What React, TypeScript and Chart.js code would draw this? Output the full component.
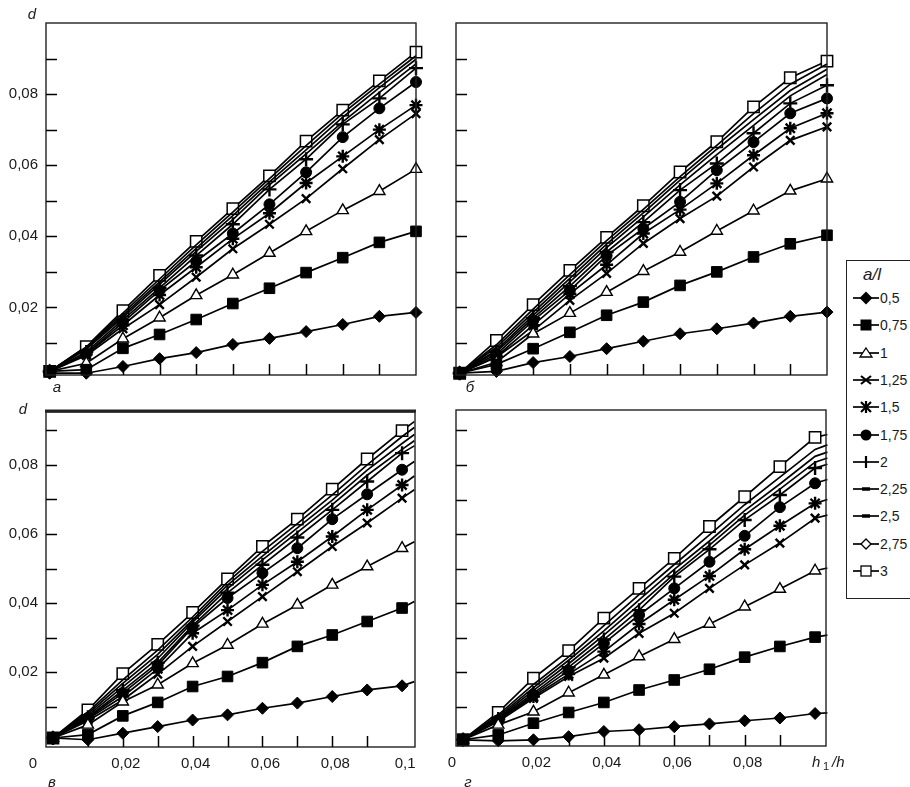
import React, { useEffect, useRef } from "react";
import { Chart, registerables } from "chart.js";

Chart.register(...registerables);

// ---------- data ----------
const ratioLabels = ["0,5", "0,75", "1", "1,25", "1,5", "1,75", "2", "2,25", "2,5", "2,75", "3"];

const xTop = [0, 0.01, 0.02, 0.03, 0.04, 0.05, 0.06, 0.07, 0.08, 0.09, 0.1];
const xBottom = [0, 0.01, 0.02, 0.03, 0.04, 0.05, 0.06, 0.07, 0.08, 0.09, 0.1, 0.1035];

// panel а
const a05 = [0.0015, 0.0015, 0.0034, 0.0056, 0.0073, 0.0096, 0.0113, 0.0132, 0.0152, 0.0175, 0.0186];
const a075 = [0.002, 0.0025, 0.0085, 0.0124, 0.0166, 0.0211, 0.0254, 0.0298, 0.034, 0.0383, 0.0414];
const a1 = [0.002, 0.0043, 0.0112, 0.0171, 0.0234, 0.0292, 0.0353, 0.0414, 0.0473, 0.0527, 0.0589];
const a125 = [0.002, 0.0065, 0.014, 0.0208, 0.0285, 0.0365, 0.0434, 0.0506, 0.059, 0.0672, 0.0745];
const a15 = [0.002, 0.0068, 0.015, 0.0235, 0.0313, 0.0393, 0.0465, 0.055, 0.0625, 0.07, 0.0769];
const a175 = [0.002, 0.007, 0.0158, 0.0248, 0.033, 0.0408, 0.049, 0.058, 0.0679, 0.076, 0.0834];
const a2 = [0.002, 0.0075, 0.0165, 0.0255, 0.0346, 0.0434, 0.0532, 0.0617, 0.0715, 0.0788, 0.0873];
const a225 = [0.002, 0.0082, 0.0172, 0.0265, 0.0358, 0.0447, 0.0545, 0.0632, 0.0722, 0.0805, 0.0885];
const a25 = [0.002, 0.0086, 0.0178, 0.0272, 0.0366, 0.0458, 0.0553, 0.0643, 0.0735, 0.0818, 0.0898];
const a275 = [0.002, 0.0089, 0.0184, 0.028, 0.0376, 0.0468, 0.0562, 0.0655, 0.0746, 0.0828, 0.0908];
const a3 = [0.002, 0.009, 0.0191, 0.029, 0.0386, 0.0478, 0.057, 0.0668, 0.0755, 0.0837, 0.0918];

// panel б
const b05 = [0.0015, 0.002, 0.0045, 0.0062, 0.0084, 0.0105, 0.0126, 0.014, 0.0156, 0.0175, 0.0187];
const b075 = [0.0015, 0.004, 0.0084, 0.013, 0.0178, 0.0215, 0.0262, 0.03, 0.0342, 0.0379, 0.0403];
const b1 = [0.0015, 0.0046, 0.0126, 0.0184, 0.0243, 0.0302, 0.0356, 0.0415, 0.0472, 0.0528, 0.0562];
const b125 = [0.0015, 0.006, 0.0135, 0.022, 0.0296, 0.038, 0.045, 0.0513, 0.0595, 0.067, 0.0708];
const b15 = [0.0015, 0.0062, 0.015, 0.0238, 0.032, 0.0408, 0.0475, 0.0549, 0.0628, 0.0704, 0.0746];
const b175 = [0.0015, 0.0068, 0.0163, 0.0248, 0.0346, 0.0422, 0.0497, 0.0586, 0.0665, 0.0746, 0.0788];
const b2 = [0.0015, 0.0075, 0.017, 0.026, 0.0356, 0.044, 0.053, 0.0605, 0.069, 0.0774, 0.0825];
const b225 = [0.0015, 0.008, 0.0178, 0.0272, 0.0368, 0.0455, 0.0545, 0.063, 0.0712, 0.0795, 0.0855];
const b25 = [0.0015, 0.0088, 0.0186, 0.0282, 0.0378, 0.0466, 0.0558, 0.0645, 0.0728, 0.081, 0.087];
const b275 = [0.0015, 0.0095, 0.0195, 0.0292, 0.0388, 0.0476, 0.0568, 0.0656, 0.0745, 0.0828, 0.0885];
const b3 = [0.0015, 0.0107, 0.0208, 0.0304, 0.0397, 0.0486, 0.0581, 0.0666, 0.0764, 0.0846, 0.0893];

// panel в (last value = end of the drawn line at the right frame)
const v05 = [0.001, 0.0005, 0.0024, 0.0043, 0.0062, 0.0077, 0.0096, 0.0111, 0.013, 0.0149, 0.0161, 0.0173];
const v075 = [0.001, 0.002, 0.0074, 0.0113, 0.0159, 0.0188, 0.0228, 0.0275, 0.0308, 0.0347, 0.0386, 0.0405];
const v1 = [0.001, 0.0048, 0.0115, 0.0164, 0.0226, 0.0279, 0.034, 0.0395, 0.0453, 0.0506, 0.0559, 0.0578];
const v125 = [0.001, 0.006, 0.012, 0.0195, 0.0275, 0.0347, 0.0419, 0.0491, 0.0564, 0.0632, 0.0704, 0.0728];
const v15 = [0.001, 0.0065, 0.013, 0.021, 0.0313, 0.038, 0.0453, 0.052, 0.0593, 0.067, 0.0742, 0.0768];
const v175 = [0.001, 0.0068, 0.014, 0.022, 0.033, 0.0415, 0.0487, 0.0559, 0.0643, 0.0715, 0.0786, 0.081];
const v2 = [0.001, 0.007, 0.0148, 0.0228, 0.0335, 0.043, 0.0511, 0.059, 0.067, 0.0752, 0.0834, 0.0855];
const v225 = [0.001, 0.0075, 0.0158, 0.024, 0.0345, 0.0442, 0.0525, 0.0605, 0.0685, 0.077, 0.0845, 0.087];
const v25 = [0.001, 0.008, 0.0168, 0.0252, 0.0352, 0.0452, 0.0536, 0.0618, 0.0698, 0.0785, 0.0862, 0.0888];
const v275 = [0.001, 0.0085, 0.0178, 0.0264, 0.036, 0.0461, 0.055, 0.063, 0.0713, 0.08, 0.0882, 0.0908];
const v3 = [0.001, 0.0091, 0.0196, 0.0281, 0.0373, 0.047, 0.0564, 0.0643, 0.073, 0.0817, 0.0899, 0.0925];

// panel г
const g05 = [0.0005, 0.0002, 0.0005, 0.0014, 0.0029, 0.0034, 0.0043, 0.0051, 0.006, 0.0068, 0.0081, 0.0083];
const g075 = [0.0005, 0.0019, 0.0053, 0.0084, 0.0113, 0.0149, 0.0178, 0.0209, 0.0244, 0.0275, 0.0302, 0.0308];
const g1 = [0.0005, 0.0048, 0.0086, 0.0141, 0.0193, 0.0246, 0.0296, 0.034, 0.039, 0.0441, 0.0494, 0.0502];
const g125 = [0.0005, 0.0058, 0.0125, 0.0188, 0.0241, 0.0313, 0.0371, 0.0443, 0.0511, 0.0574, 0.0646, 0.0655];
const g15 = [0.0005, 0.006, 0.013, 0.0195, 0.026, 0.034, 0.041, 0.0479, 0.0556, 0.0624, 0.0689, 0.07];
const g175 = [0.0005, 0.0062, 0.0135, 0.0205, 0.0284, 0.0366, 0.0443, 0.052, 0.0595, 0.0678, 0.0747, 0.0758];
const g2 = [0.0005, 0.0065, 0.014, 0.0215, 0.0295, 0.038, 0.0477, 0.0556, 0.0641, 0.0713, 0.0791, 0.0802];
const g225 = [0.0005, 0.0068, 0.0148, 0.0225, 0.0308, 0.0395, 0.0485, 0.0568, 0.0655, 0.073, 0.0808, 0.082];
const g25 = [0.0005, 0.0072, 0.0156, 0.0235, 0.032, 0.041, 0.0498, 0.058, 0.0668, 0.0745, 0.0825, 0.0837];
const g275 = [0.0005, 0.0077, 0.0165, 0.0245, 0.0335, 0.0425, 0.0512, 0.0598, 0.0685, 0.0765, 0.0845, 0.0858];
const g3 = [0.0005, 0.0084, 0.0183, 0.0263, 0.0357, 0.0443, 0.053, 0.0622, 0.0708, 0.0795, 0.088, 0.0888];

const minorTicks = [0.01, 0.02, 0.03, 0.04, 0.05, 0.06, 0.07, 0.08, 0.09];
const yLabelValues = [0.02, 0.04, 0.06, 0.08];
const yLabelTexts = ["0,02", "0,04", "0,06", "0,08"];
const xLabelValuesV = [0, 0.02, 0.04, 0.06, 0.08, 0.1];
const xLabelTextsV = ["0", "0,02", "0,04", "0,06", "0,08", "0,1"];
const xLabelValuesG = [0, 0.02, 0.04, 0.06, 0.08];
const xLabelTextsG = ["0", "0,02", "0,04", "0,06", "0,08"];

// ---------- styles ----------
type Marker = { style: string; r: number; fill: string; bw: number };
const markers: Marker[] = [
  { style: "rectRot", r: 6, fill: "#000", bw: 1 },
  { style: "rect", r: 7.5, fill: "#000", bw: 1 },
  { style: "triangle", r: 6.5, fill: "#fff", bw: 1.4 },
  { style: "crossRot", r: 6, fill: "#000", bw: 2.4 },
  { style: "star", r: 6.5, fill: "#000", bw: 2.4 },
  { style: "circle", r: 5.5, fill: "#000", bw: 1 },
  { style: "cross", r: 7, fill: "#000", bw: 2.4 },
  { style: "line", r: 0, fill: "#000", bw: 3 },
  { style: "line", r: 0, fill: "#000", bw: 3 },
  { style: "rectRot", r: 0, fill: "#fff", bw: 1.2 },
  { style: "rect", r: 8, fill: "#fff", bw: 1.5 },
];

const FONT = '"Liberation Sans", Arial, sans-serif';

type Panel = {
  left: number; top: number; w: number; h: number;
  pad: { left: number; top: number; right: number; bottom: number };
  xMin: number; xMax: number; yMin: number; yMax: number;
  xs: number[]; series: number[][]; lastIsLineEnd: boolean;
  letter: string; letterDx: number; letterDy: number;
  dLabel: null | { dx: number; dy: number };
  yLabels: boolean;
  xLabels: null | { values: number[]; texts: string[]; zeroDx: number };
  thickTop: boolean; axisTitle: boolean;
};

const panels: Panel[] = [
  {
    left: 0, top: 0, w: 440, h: 400, pad: { left: 46, top: 23, right: 24, bottom: 25 },
    xMin: -0.001, xMax: 0.1, yMin: 0.001, yMax: 0.1, xs: xTop,
    series: [a05, a075, a1, a125, a15, a175, a2, a225, a25, a275, a3], lastIsLineEnd: false,
    letter: "а", letterDx: 11, letterDy: 13, dLabel: { dx: -14, dy: -8 }, yLabels: true, xLabels: null,
    thickTop: false, axisTitle: false,
  },
  {
    left: 440, top: 0, w: 400, h: 400, pad: { left: 16, top: 23, right: 13, bottom: 25 },
    xMin: -0.001, xMax: 0.1, yMin: 0.001, yMax: 0.1, xs: xTop,
    series: [b05, b075, b1, b125, b15, b175, b2, b225, b25, b275, b3], lastIsLineEnd: false,
    letter: "б", letterDx: 14, letterDy: 13, dLabel: null, yLabels: false, xLabels: null,
    thickTop: false, axisTitle: false,
  },
  {
    left: 0, top: 400, w: 440, h: 387, pad: { left: 46, top: 12, right: 25, bottom: 40 },
    xMin: -0.002, xMax: 0.1037, yMin: -0.0016, yMax: 0.0953, xs: xBottom,
    series: [v05, v075, v1, v125, v15, v175, v2, v225, v25, v275, v3], lastIsLineEnd: true,
    letter: "в", letterDx: 6, letterDy: 36, dLabel: { dx: -23, dy: -2 }, yLabels: true,
    xLabels: { values: xLabelValuesV, texts: xLabelTextsV, zeroDx: -20 },
    thickTop: true, axisTitle: false,
  },
  {
    left: 440, top: 400, w: 420, h: 387, pad: { left: 16, top: 10, right: 34, bottom: 41 },
    xMin: -0.002, xMax: 0.1031, yMin: -0.0013, yMax: 0.0959, xs: xBottom,
    series: [g05, g075, g1, g125, g15, g175, g2, g225, g25, g275, g3], lastIsLineEnd: true,
    letter: "г", letterDx: 12, letterDy: 37, dLabel: null, yLabels: false,
    xLabels: { values: xLabelValuesG, texts: xLabelTextsG, zeroDx: -11 },
    thickTop: false, axisTitle: true,
  },
];

function decorPlugin(p: Panel) {
  return {
    id: "decor",
    afterDatasetsDraw(chart: any) {
      const ctx = chart.ctx as CanvasRenderingContext2D;
      const a = chart.chartArea;
      const xs = chart.scales.x;
      const ys = chart.scales.y;
      const line = (x1: number, y1: number, x2: number, y2: number) => {
        ctx.beginPath(); ctx.moveTo(x1, y1); ctx.lineTo(x2, y2); ctx.stroke();
      };
      ctx.save();
      ctx.strokeStyle = "#222";
      ctx.lineWidth = 1.4;
      ctx.strokeRect(a.left, a.top, a.right - a.left, a.bottom - a.top);
      if (p.thickTop) { ctx.lineWidth = 3; line(a.left - 1, a.top - 1, a.right + 1, a.top - 1); }
      ctx.lineWidth = 1.5;
      ctx.strokeStyle = "#000";
      for (const v of minorTicks) {
        const y = Math.round(ys.getPixelForValue(v)) + 0.5;
        line(a.left, y, a.left + 11, y);
        const x = Math.round(xs.getPixelForValue(v)) + 0.5;
        line(x, a.bottom, x, a.bottom - 11);
      }
      ctx.fillStyle = "#1a1a1a";
      ctx.font = `15px ${FONT}`;
      if (p.yLabels) {
        ctx.textAlign = "right"; ctx.textBaseline = "middle";
        yLabelValues.forEach((v, i) => ctx.fillText(yLabelTexts[i], a.left - 8, ys.getPixelForValue(v)));
      }
      if (p.xLabels) {
        ctx.textAlign = "center"; ctx.textBaseline = "middle";
        p.xLabels.values.forEach((v, i) => {
          const dx = v === 0 ? p.xLabels!.zeroDx : 3;
          ctx.fillText(p.xLabels!.texts[i], xs.getPixelForValue(v) + dx, a.bottom + 17);
        });
      }
      if (p.axisTitle) {
        ctx.font = `italic 15px ${FONT}`;
        ctx.textAlign = "left"; ctx.textBaseline = "middle";
        const x0 = a.right - 14; const y0 = a.bottom + 17;
        ctx.fillText("h", x0, y0);
        ctx.font = `11px ${FONT}`;
        ctx.fillText("1", x0 + 11, y0 + 4);
        ctx.font = `italic 15px ${FONT}`;
        ctx.fillText("/h", x0 + 20, y0);
      }
      ctx.font = `italic 15px ${FONT}`;
      ctx.textAlign = "center"; ctx.textBaseline = "middle";
      ctx.fillText(p.letter, a.left + p.letterDx, a.bottom + p.letterDy);
      if (p.dLabel) ctx.fillText("d", a.left + p.dLabel.dx, a.top + p.dLabel.dy);
      ctx.restore();
    },
  };
}

function PanelChart({ p }: { p: Panel }) {
  const ref = useRef<HTMLCanvasElement>(null);
  useEffect(() => {
    if (!ref.current) return;
    const datasets = p.series.map((vals, si) => {
      const m = markers[si];
      const n = vals.length;
      return {
        label: ratioLabels[si],
        data: vals.map((y, i) => ({ x: p.xs[i], y })),
        borderColor: "#000",
        borderWidth: 1.7,
        pointStyle: m.style,
        pointRadius: vals.map((_, i) => (p.lastIsLineEnd && i === n - 1 ? 0 : m.r)),
        pointBackgroundColor: m.fill,
        pointBorderColor: "#000",
        pointBorderWidth: m.bw,
        tension: 0,
        clip: false as any,
      };
    });
    const chart = new Chart(ref.current, {
      type: "line",
      data: { datasets },
      options: {
        responsive: false,
        animation: false,
        events: [],
        layout: { padding: p.pad },
        plugins: { legend: { display: false }, tooltip: { enabled: false } },
        scales: {
          x: { type: "linear", min: p.xMin, max: p.xMax, display: false },
          y: { type: "linear", min: p.yMin, max: p.yMax, display: false },
        },
      },
      plugins: [decorPlugin(p)],
    });
    return () => chart.destroy();
  }, [p]);
  return (
    <canvas
      ref={ref}
      width={p.w}
      height={p.h}
      style={{ position: "absolute", left: p.left, top: p.top, width: p.w, height: p.h }}
    />
  );
}

function LegendIcon({ i }: { i: number }) {
  const s = { stroke: "#000", strokeWidth: 1.3 };
  let shape: React.ReactNode = null;
  switch (i) {
    case 0: shape = <polygon points="14,1.5 19.5,7 14,12.5 8.5,7" fill="#000" {...s} />; break;
    case 1: shape = <rect x={8.5} y={1.5} width={11} height={11} fill="#000" />; break;
    case 2: shape = <polygon points="14,2 20,11 8,11" fill="#fff" {...s} />; break;
    case 3: shape = <g stroke="#000" strokeWidth={2.2}><line x1={9} y1={3} x2={19} y2={11} /><line x1={9} y1={11} x2={19} y2={3} /></g>; break;
    case 4: shape = <g stroke="#000" strokeWidth={2.2}><line x1={9} y1={2} x2={19} y2={12} /><line x1={9} y1={12} x2={19} y2={2} /><line x1={14} y1={1} x2={14} y2={13} /></g>; break;
    case 5: shape = <circle cx={14} cy={7} r={5.5} fill="#000" />; break;
    case 6: shape = <g stroke="#000" strokeWidth={2.2}><line x1={14} y1={1} x2={14} y2={13} /></g>; break;
    case 7: case 8: shape = <line x1={10} y1={7} x2={18} y2={7} stroke="#000" strokeWidth={3.5} />; break;
    case 9: shape = <polygon points="14,2 19,7 14,12 9,7" fill="#fff" {...s} />; break;
    case 10: shape = <rect x={9} y={2} width={10} height={10} fill="#fff" {...s} />; break;
  }
  return (
    <svg width={28} height={14} style={{ position: "absolute", left: 5, top: 0 }}>
      <line x1={1} y1={7} x2={27} y2={7} stroke="#000" strokeWidth={1.7} />
      {shape}
    </svg>
  );
}

function Legend() {
  return (
    <div
      style={{
        position: "absolute", left: 846, top: 260, width: 70, height: 337,
        border: "1.5px solid #222", background: "#fff", fontFamily: FONT, fontSize: 14, color: "#1a1a1a",
      }}
    >
      <div style={{ position: "absolute", left: 16, top: 4, fontStyle: "italic", fontSize: 17 }}>a/l</div>
      {ratioLabels.map((t, i) => (
        <div key={t} style={{ position: "absolute", left: 0, top: 30 + i * 27.3, height: 14, width: 70 }}>
          <LegendIcon i={i} />
          <span style={{ position: "absolute", left: 33, top: -1, lineHeight: "16px" }}>{t}</span>
        </div>
      ))}
    </div>
  );
}

export default function App() {
  return (
    <div style={{ position: "absolute", left: 0, top: 0, width: 910, height: 787, overflow: "hidden", background: "#fff" }}>
      {panels.map((p, i) => (
        <PanelChart key={i} p={p} />
      ))}
      <Legend />
    </div>
  );
}
